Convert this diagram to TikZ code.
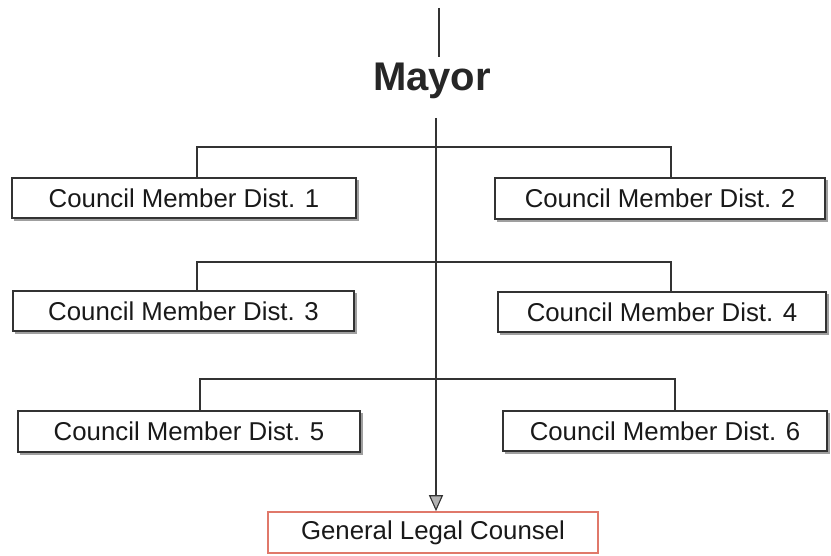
\documentclass[tikz,border=0pt]{standalone}
\usepackage{fontspec}
\setmainfont{Liberation Sans}
\usetikzlibrary{arrows.meta}
\definecolor{ink}{HTML}{333333}
\definecolor{legal}{HTML}{E0786A}
\tikzset{
  cmbox/.style={draw=ink, line width=1.1pt, fill=white, inner sep=0pt,
    font=\fontsize{25.8}{30}\selectfont, text=black!90},
  conn/.style={draw=ink, line width=1.1pt},
  shade/.style={draw=gray!75, line width=2.6pt}
}
\begin{document}
\begin{tikzpicture}[x=1pt,y=-1pt]
\useasboundingbox (0,0) rectangle (831,556);
% top line
\coordinate (tt) at (439,8);
\coordinate (tb) at (439,57);
\draw[conn] (tt) -- (tb);
\node[font=\bfseries\fontsize{40}{46}\selectfont, text=black!85] (mayor) at (432,81) {Mayor};

% boxes
\node[cmbox, minimum width=344pt, minimum height=40pt] (cm1) at (184,198) {Council Member Dist. 1};
\node[cmbox, minimum width=330pt, minimum height=41pt] (cm2) at (660,198.5) {Council Member Dist. 2};
\node[cmbox, minimum width=341pt, minimum height=40pt] (cm3) at (183.5,311) {Council Member Dist. 3};
\node[cmbox, minimum width=328pt, minimum height=40pt] (cm4) at (662,312) {Council Member Dist. 4};
\node[cmbox, minimum width=342pt, minimum height=41pt] (cm5) at (189,431.5) {Council Member Dist. 5};
\node[cmbox, minimum width=324pt, minimum height=40pt] (cm6) at (665,431) {Council Member Dist. 6};
\node[cmbox, draw=legal, line width=1.6pt, minimum width=330pt, minimum height=41pt] (glc) at (433,532.5) {General Legal Counsel};

% shadows
\foreach \b in {cm1,cm2,cm3,cm4,cm5,cm6}{
  \draw[shade] ([xshift=1.6pt,yshift=-3pt]\b.north east) -- ([xshift=1.6pt,yshift=-1.6pt]\b.south east) -- ([xshift=3pt,yshift=-1.6pt]\b.south west);
}

% connectors
\coordinate (h1l) at (197,147); \coordinate (h1r) at (671,147);
\coordinate (h2l) at (197,262); \coordinate (h2r) at (671,262);
\coordinate (h3l) at (200,379); \coordinate (h3r) at (675,379);
\draw[conn] (cm1.north -| h1l) -- (h1l) -- (h1r) -- (cm2.north -| h1r);
\draw[conn] (cm3.north -| h2l) -- (h2l) -- (h2r) -- (cm4.north -| h2r);
\draw[conn] (cm5.north -| h3l) -- (h3l) -- (h3r) -- (cm6.north -| h3r);

% main arrow
\coordinate (ms) at (436,118);
\draw[conn, -{Triangle[length=16pt,width=14pt,fill=gray!60]}] (ms) -- (glc.north -| ms);
\end{tikzpicture}
\end{document}
